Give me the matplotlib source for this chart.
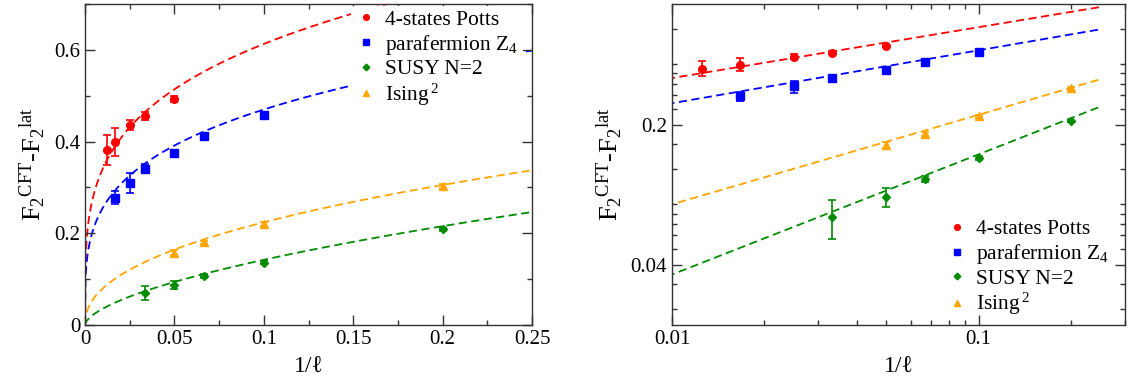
import numpy as np
import matplotlib
matplotlib.use('Agg')
import matplotlib.pyplot as plt
from matplotlib.ticker import MultipleLocator, FixedLocator, LogLocator, NullFormatter, FuncFormatter

plt.rcParams['font.family'] = ['Liberation Serif', 'DejaVu Serif']
plt.rcParams['mathtext.fontset'] = 'custom'
plt.rcParams['mathtext.rm'] = 'Liberation Serif'
plt.rcParams['mathtext.it'] = 'Liberation Serif:italic'

# F2 differences vs 1/l for the four models
inv_l_potts = [1/80, 1/60, 1/40, 1/30, 1/20]
f2_potts = [0.381, 0.399, 0.437, 0.456, 0.493]
err_potts = [0.033, 0.030, 0.011, 0.008, 0.006]

inv_l_para = [1/60, 1/40, 1/30, 1/20, 1/15, 1/10]
f2_para = [0.278, 0.310, 0.341, 0.376, 0.412, 0.459]
err_para = [0.0145, 0.022, 0.010, 0.005, 0.004, 0.004]

inv_l_susy = [1/30, 1/20, 1/15, 1/10, 1/5]
f2_susy = [0.069, 0.087, 0.107, 0.136, 0.209]
err_susy = [0.015, 0.0095, 0.004, 0.003, 0.003]

inv_l_ising = [1/20, 1/15, 1/10, 1/5]
f2_ising = [0.158, 0.180, 0.220, 0.303]
err_ising = [0.005, 0.004, 0.004, 0.004]

labels = ['4-states Potts', r'parafermion Z$_4$', 'SUSY N=2', r'Ising$\,^2$']
colors = ['#ff0000', '#0000ff', '#008b00', '#ffa500']
markers = ['o', 's', 'D', '^']
msizes = [5.5, 5.5, 4.5, 5.5]

# power-law fits  F = A * (1/l)^p
fit_amp = [1.10, 0.863, 0.566, 0.627]
fit_exp = [0.254, 0.264, 0.600, 0.447]

xs = [inv_l_potts, inv_l_para, inv_l_susy, inv_l_ising]
ys = [f2_potts, f2_para, f2_susy, f2_ising]
es = [err_potts, err_para, err_susy, err_ising]

x_fit = np.linspace(0, 0.25, 1001)

fig = plt.figure(figsize=(11.28, 3.77), dpi=100)
ax1 = fig.add_axes([85/1128, 1 - 325/377, 447/1128, 321/377])
ax2 = fig.add_axes([672/1128, 1 - 325/377, 453/1128, 321/377])


def draw(ax, x_line):
    for i in range(4):
        ax.plot(x_line, fit_amp[i] * x_line ** fit_exp[i], color=colors[i],
                lw=1.3, dashes=(4.5, 2.5), zorder=1)
        ax.errorbar(xs[i], ys[i], yerr=es[i], fmt='none', ecolor=colors[i],
                    elinewidth=1.2, capsize=3, capthick=1.2, zorder=2)
        ax.plot(xs[i], ys[i], ls='none', marker=markers[i], ms=msizes[i],
                color=colors[i], label=labels[i], zorder=3)


draw(ax1, x_fit)
draw(ax2, x_fit[1:])

for ax in (ax1, ax2):
    ax.tick_params(which='both', direction='in', top=True, right=True,
                   labelsize=15, colors='#333333', labelcolor='black')
    ax.tick_params(which='major', length=7, width=1)
    ax.tick_params(which='minor', length=3.5, width=1)
    for s in ax.spines.values():
        s.set_color('#333333')
        s.set_linewidth(1)
    ax.set_xlabel('1/ℓ', fontsize=17, labelpad=6)
    ax.set_ylabel(r'F$_2{}^{\mathrm{CFT}}$-F$_2{}^{\mathrm{lat}}$', fontsize=19, labelpad=4)

fmt = FuncFormatter(lambda v, pos: '%g' % v)
leg_kw = dict(fontsize=15.5, handlelength=1.0, handletextpad=0.4, labelspacing=0.12,
              borderpad=0.2, markerscale=0.75)

# linear panel
ax1.set_xlim(0, 0.25)
ax1.set_ylim(0, 0.7)
ax1.xaxis.set_major_locator(MultipleLocator(0.05))
ax1.xaxis.set_minor_locator(MultipleLocator(0.025))
ax1.yaxis.set_major_locator(MultipleLocator(0.2))
ax1.yaxis.set_minor_locator(MultipleLocator(0.1))
ax1.xaxis.set_major_formatter(fmt)
ax1.yaxis.set_major_formatter(fmt)
ax1.legend(loc='upper left', bbox_to_anchor=(0.595, 0.995), frameon=True, facecolor='white',
           edgecolor='none', framealpha=1, borderaxespad=0, **leg_kw)

# log-log panel
ax2.set_xscale('log')
ax2.set_yscale('log')
ax2.set_xlim(0.01, 0.3)
ax2.set_ylim(0.02, 0.8)
ax2.xaxis.set_major_locator(FixedLocator([0.01, 0.1]))
ax2.xaxis.set_minor_locator(LogLocator(base=10, subs=np.arange(2, 10)))
ax2.xaxis.set_major_formatter(fmt)
ax2.xaxis.set_minor_formatter(NullFormatter())
ax2.yaxis.set_major_locator(FixedLocator([0.04, 0.2]))
ax2.yaxis.set_minor_locator(FixedLocator([0.024, 0.032, 0.048, 0.056, 0.064, 0.072, 0.08,
                                          0.12, 0.16, 0.24, 0.28, 0.32, 0.36, 0.4, 0.6]))
ax2.yaxis.set_major_formatter(fmt)
ax2.yaxis.set_minor_formatter(NullFormatter())
ax2.legend(loc='lower left', bbox_to_anchor=(0.596, 0.01), frameon=False, borderaxespad=0,
           **leg_kw)

fig.savefig('out.png', dpi=100)
